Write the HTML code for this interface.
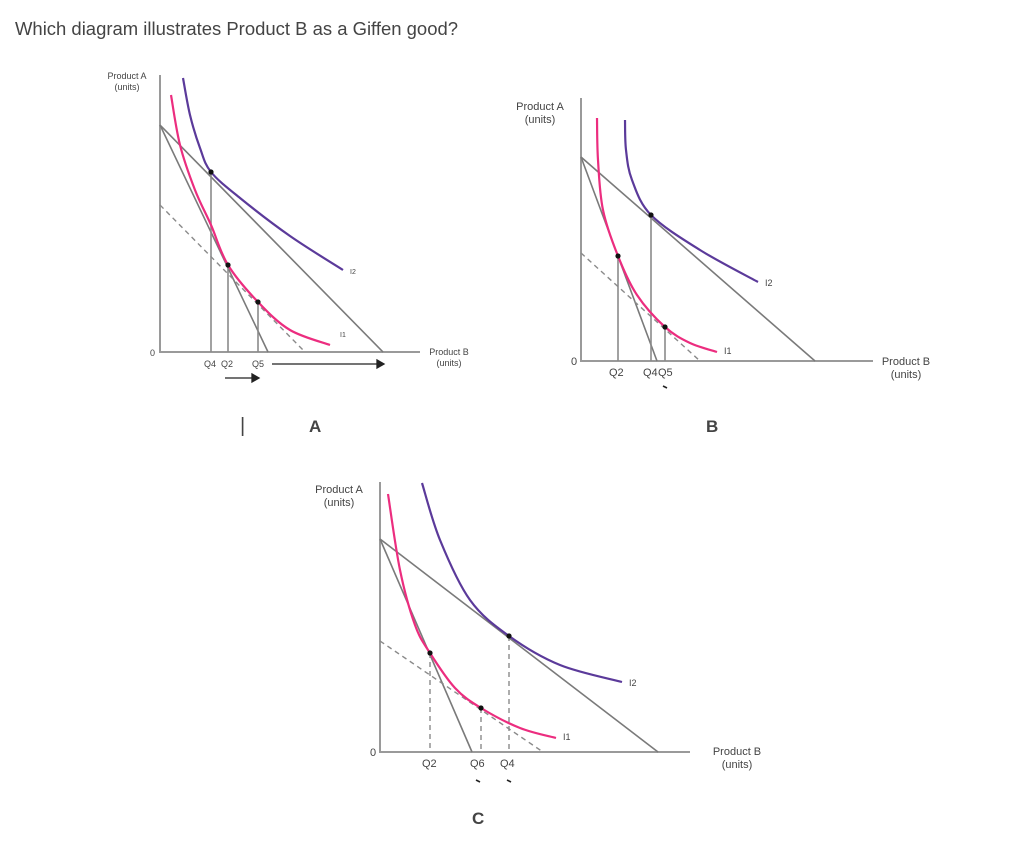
<!DOCTYPE html>
<html>
<head>
<meta charset="utf-8">
<style>
  html,body{margin:0;padding:0;background:#fff;}
  body{width:1024px;height:850px;overflow:hidden;}
  svg{display:block;}
  .ax{stroke:#9a9a9a;stroke-width:2;fill:none;}
  .bl{stroke:#7a7a7a;stroke-width:1.6;fill:none;}
  .dash{stroke:#8a8a8a;stroke-width:1.4;stroke-dasharray:5,4;fill:none;}
  .vl{stroke:#8a8a8a;stroke-width:1.6;fill:none;}
  .i1{stroke:#ec2d7f;stroke-width:2.2;fill:none;}
  .i2{stroke:#5b3a9a;stroke-width:2.2;fill:none;}
  text{font-family:"Liberation Sans",sans-serif;fill:#444;}
</style>
</head>
<body>
<svg id="chart" width="1024" height="850" viewBox="0 0 1024 850">
  <text x="15" y="35" font-size="18" fill="#333" textLength="443" lengthAdjust="spacingAndGlyphs">Which diagram illustrates Product B as a Giffen good?</text>
  <text x="240" y="432" font-size="20" fill="#222">|</text>
  <text x="309" y="432" font-size="17" font-weight="bold" fill="#222">A</text>
  <text x="706" y="432" font-size="17" font-weight="bold" fill="#222">B</text>
  <text x="472" y="824" font-size="17" font-weight="bold" fill="#222">C</text>
</svg>
<script>
// Panel A data
const aAxes = {ox:160, oy:352, top:75, right:420};
const aBudget = [[160,125,383,352],[160,125,268,352]];
const aDashed = [160,205,305,352];
const aI2 = [[183,78],[190,115],[200,148],[211,172],[240,198],[290,236],[343,270]];
const aI1 = [[171,95],[180,145],[195,190],[211,225],[228,265],[258,302],[290,330],[330,345]];
const aPoints = [[211,172],[228,265],[258,302]];
const aQLabels = [["Q4",204],["Q2",221],["Q5",252]];
// Panel B data
const bAxes = {ox:581, oy:361, top:98, right:873};
const bBudget = [[581,157,815,361],[581,157,657,361]];
const bDashed = [581,253,700,361];
const bI2 = [[625,120],[626,150],[632,180],[651,215],[700,250],[758,282]];
const bI1 = [[597,118],[598,160],[603,210],[618,256],[637,295],[665,327],[690,343],[717,352]];
const bPoints = [[651,215],[618,256],[665,327]];
const bQLabels = [["Q2",609],["Q4",643],["Q5",658]];
// Panel C data
const cAxes = {ox:380, oy:752, top:482, right:690};
const cBudget = [[380,539,658,752],[380,539,472,752]];
const cDashed = [380,641,543,752];
const cI2 = [[422,483],[440,540],[470,600],[509,636],[560,665],[622,682]];
const cI1 = [[388,494],[400,570],[415,625],[430,653],[455,688],[481,708],[520,728],[556,738]];
const cPoints = [[509,636],[430,653],[481,708]];
const cQLabels = [["Q2",422],["Q6",470],["Q4",500]];

const NS='http://www.w3.org/2000/svg';
const svg=document.getElementById('chart');
function mk(tag,attrs){const e=document.createElementNS(NS,tag);for(const k in attrs)e.setAttribute(k,attrs[k]);svg.appendChild(e);return e;}
function smooth(pts){
  let d='M'+pts[0][0]+','+pts[0][1];
  for(let i=0;i<pts.length-1;i++){
    const p0=pts[i-1]||pts[i],p1=pts[i],p2=pts[i+1],p3=pts[i+2]||p2;
    const c1=[p1[0]+(p2[0]-p0[0])/6,p1[1]+(p2[1]-p0[1])/6];
    const c2=[p2[0]-(p3[0]-p1[0])/6,p2[1]-(p3[1]-p1[1])/6];
    d+=' C'+c1[0]+','+c1[1]+' '+c2[0]+','+c2[1]+' '+p2[0]+','+p2[1];
  }
  return d;
}
function panel(p,ax,budget,dashed,i2,i1,pts,ql,vdash,fs,lab){
  let e;
  e=mk('path',{d:'M'+ax.ox+','+ax.top+' V'+ax.oy+' H'+ax.right,class:'ax'});
  
  
  budget.forEach((b,i)=>{
    e=mk('line',{x1:b[0],y1:b[1],x2:b[2],y2:b[3],class:'bl'});
    
    
  });
  e=mk('line',{x1:dashed[0],y1:dashed[1],x2:dashed[2],y2:dashed[3],class:'dash'});
  
  
  pts.forEach((q,i)=>{
    e=mk('line',{x1:q[0],y1:q[1],x2:q[0],y2:ax.oy,class:vdash?'dash':'vl'});
    
    
  });
  e=mk('path',{d:smooth(i2),class:'i2'});
  
  
  e=mk('path',{d:smooth(i1),class:'i1'});
  
  
  pts.forEach((q,i)=>{
    e=mk('circle',{cx:q[0],cy:q[1],r:2.6,fill:'#111'});
    
    
  });
  ql.forEach(l=>{
    e=mk('text',{x:l[1],y:ax.oy+15,'font-size':fs});
    e.textContent=l[0];
    
    
  });
  e=mk('text',{x:ax.ox-10,y:ax.oy+4,'font-size':fs});e.textContent='0';
  
  
  const l2=i2[i2.length-1],l1=i1[i1.length-1];
  e=mk('text',{x:l2[0]+7,y:l2[1]+4,'font-size':fs-2});e.textContent='I2';
  
  
  e=mk('text',{x:l1[0]+(lab.i1dx||7),y:l1[1]+(lab.i1dy||2),'font-size':fs-2});e.textContent='I1';
  
  
  e=mk('text',{x:lab.ya[0],y:lab.ya[1],'font-size':fs,'text-anchor':'middle'});e.textContent='Product A';
  
  
  e=mk('text',{x:lab.ya[0],y:lab.ya[1]+fs+2,'font-size':fs,'text-anchor':'middle'});e.textContent='(units)';
  
  
  e=mk('text',{x:lab.xa[0],y:lab.xa[1],'font-size':fs,'text-anchor':'middle'});e.textContent='Product B';
  
  
  e=mk('text',{x:lab.xa[0],y:lab.xa[1]+fs+2,'font-size':fs,'text-anchor':'middle'});e.textContent='(units)';
  
  
}
panel('panel-a',aAxes,aBudget,aDashed,aI2,aI1,aPoints,aQLabels,false,9,{ya:[127,79],xa:[449,355],i1dx:10,i1dy:-8});
panel('panel-b',bAxes,bBudget,bDashed,bI2,bI1,bPoints,bQLabels,false,11,{ya:[540,110],xa:[906,365]});
panel('panel-c',cAxes,cBudget,cDashed,cI2,cI1,cPoints,cQLabels,true,11,{ya:[339,493],xa:[737,755]});
// arrows panel A
let ar=mk('path',{d:'M272,364 H377 M377,360 L384,364 L377,368 Z',stroke:'#222','stroke-width':1.3,fill:'#222'});


ar=mk('path',{d:'M225,378 H252 M252,374 L259,378 L252,382 Z',stroke:'#222','stroke-width':1.3,fill:'#222'});


// small tick marks under labels
[[665,387],[478,781],[509,781]].forEach((t,i)=>{
  const m=mk('line',{x1:t[0]-2,y1:t[1]-1,x2:t[0]+2,y2:t[1]+1,stroke:'#222','stroke-width':1.6});
  
  
});
</script>
</body>
</html>
